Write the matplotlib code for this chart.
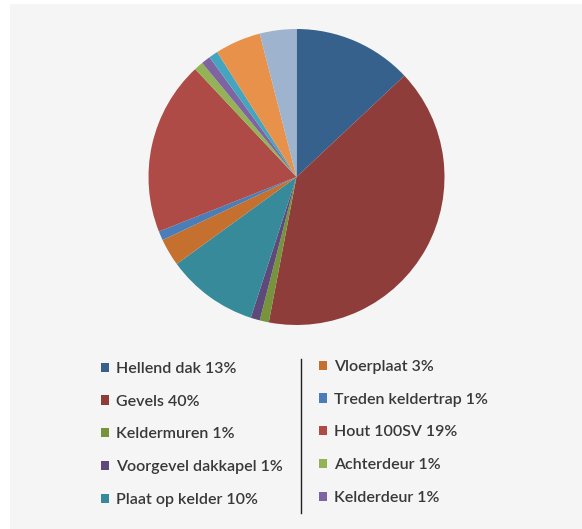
import matplotlib as mpl

mpl.use("Agg")

import matplotlib.pyplot as plt
from matplotlib.lines import Line2D
from matplotlib.patches import Rectangle

W, H = 582, 529

labels = [
    "Hellend dak 13%", "Gevels 40%", "Keldermuren 1%", "Voorgevel dakkapel 1%",
    "Plaat op kelder 10%", "Vloerplaat 3%", "Treden keldertrap 1%", "Hout 100SV 19%",
    "Achterdeur 1%", "Kelderdeur 1%", "", "", "",
]
shares = [13, 40, 1, 1, 10, 3, 1, 19, 1, 1, 1, 5, 4]
colors = [
    "#37618D", "#8E3D3B", "#77933C", "#5E4A7A", "#368A9A", "#C5702F", "#4A7EB8",
    "#AE4B47", "#93B356", "#7E64A0", "#45A5BE", "#E8914A", "#9EB3CE",
]
n_legend = 10

fig = plt.figure(figsize=(W / 100, H / 100), dpi=100)
fig.patch.set_facecolor("white")
fig.patches.append(Rectangle((10 / W, 0), 1, (H - 4) / H, transform=fig.transFigure,
                             facecolor="#F5F5F5", edgecolor="none", zorder=-10))

cx, cy, r = 296.5, 177, 148
ax = fig.add_axes([(cx - r) / W, (H - cy - r) / H, 2 * r / W, 2 * r / H])
wedges, _ = ax.pie(shares, colors=colors, startangle=90, counterclock=False,
                   wedgeprops=dict(linewidth=0))
ax.set_xlim(-1, 1)
ax.set_ylim(-1, 1)
ax.set_aspect("equal")
ax.axis("off")

font = dict(family="Lato", size=11.5, weight="semibold")
common = dict(frameon=False, borderpad=0, borderaxespad=0, handlelength=0.5,
              handleheight=0.5, handletextpad=0.42, labelspacing=1.17,
              prop=font, labelcolor="#383838", loc="upper left")
fig.legend(wedges[:5], labels[:5], bbox_to_anchor=(101 / W, 1 - 362 / H), **common)
fig.legend(wedges[5:n_legend], labels[5:n_legend], bbox_to_anchor=(319 / W, 1 - 360 / H), **common)

fig.lines.append(Line2D([300.7 / W, 300.7 / W], [1 - 359 / H, 1 - 513 / H],
                        transform=fig.transFigure, color="#202020", linewidth=1.0))

fig.savefig("out.png", dpi=100)
